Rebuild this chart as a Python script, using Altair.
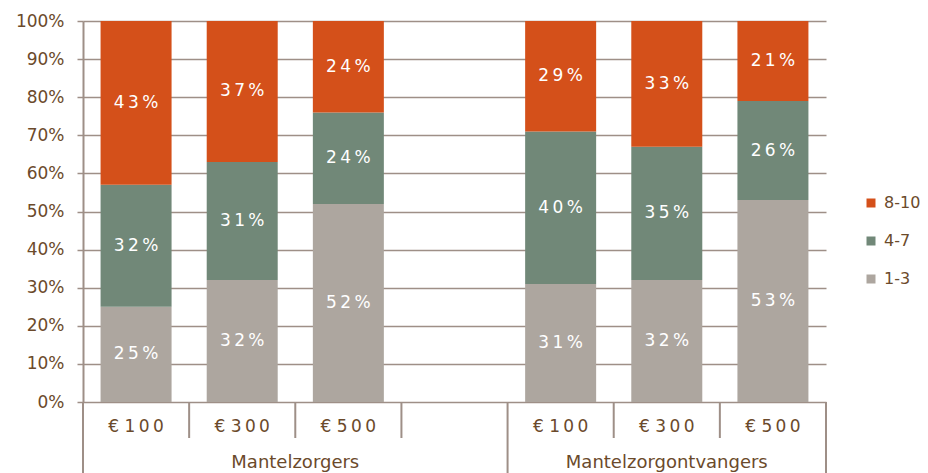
import altair as alt
import pandas as pd

# ---- data ----
groups = ["Mantelzorgers", "Mantelzorgontvangers"]
amounts = ["€ 100", "€ 300", "€ 500"]
scores = ["1-3", "4-7", "8-10"]
share_1_3 = [25, 32, 52, 31, 32, 53]
share_4_7 = [32, 31, 24, 40, 35, 26]
share_8_10 = [43, 37, 24, 29, 33, 21]
y_ticks = [0, 10, 20, 30, 40, 50, 60, 70, 80, 90, 100]

# ---- styling ----
COLORS = {"8-10": "#D4501A", "4-7": "#718878", "1-3": "#ADA69F"}
TEXT = "#6B4A2B"
GRID = "#9E8F87"
FONT = "DejaVu Sans"
THIN = "\u2009"
W, H = 743, 381

# layout: one empty slot after the first group
group_slots = [len(amounts) + 1, len(amounts)]
n_slots = sum(group_slots)

rows, amount_rows, group_rows = [], [], []
series = [share_1_3, share_4_7, share_8_10]
start = 0
for gi, g in enumerate(groups):
    for ai, a in enumerate(amounts):
        k = gi * len(amounts) + ai
        slot = start + ai
        for si, s in enumerate(scores):
            v = series[si][k]
            rows.append(dict(group=g, amount=a, slot=slot, pos=slot + 0.5, score=s,
                             rank=si, value=v, label=THIN.join(f"{v}%")))
        cur, num = a.split(" ")
        amount_rows.append(dict(pos=slot + 0.5, label=cur + " " + THIN.join(num)))
    group_rows.append(dict(pos=start + group_slots[gi] / 2, label=g))
    start += group_slots[gi]

df = pd.DataFrame(rows)
amount_df = pd.DataFrame(amount_rows)
group_df = pd.DataFrame(group_rows)

edges = [0]
for n in group_slots:
    edges.append(edges[-1] + n)
long_df = pd.DataFrame({"b": edges})
short_df = pd.DataFrame({"b": [i for i in range(n_slots + 1) if i not in edges]})

xs = alt.Scale(domain=[0, n_slots], nice=False, zero=False, padding=0)
ys = alt.Scale(domain=[0, 100], nice=False, padding=0)
y_axis = alt.Axis(values=y_ticks, labelExpr="datum.value + '%'", title=None,
                  grid=True, gridColor=GRID, gridWidth=1.5, labelOverlap=False,
                  domainColor=GRID, domainWidth=2,
                  tickColor=GRID, tickWidth=1.5, tickSize=6,
                  labelPadding=13, labelFontSize=17, labelColor=TEXT,
                  labelFont=FONT)

bars = alt.Chart(df).mark_bar(size=71).encode(
    x=alt.X("pos:Q", scale=xs, axis=None),
    y=alt.Y("value:Q", stack="zero", scale=ys, axis=y_axis),
    color=alt.Color("score:N",
                    scale=alt.Scale(domain=["8-10", "4-7", "1-3"],
                                    range=[COLORS["8-10"], COLORS["4-7"], COLORS["1-3"]]),
                    legend=alt.Legend(title=None, orient="none", legendX=780, legendY=174,
                                      symbolType="square", symbolSize=81,
                                      symbolStrokeWidth=0, symbolOpacity=1,
                                      labelFontSize=16, labelColor=TEXT, labelFont=FONT,
                                      labelOffset=5, rowPadding=22)),
    order=alt.Order("rank:Q"),
)

texts = alt.Chart(df).transform_stack(
    stack="value", groupby=["slot"], as_=["y0", "y1"],
    sort=[alt.SortField("rank", order="ascending")]
).transform_calculate(mid="(datum.y0 + datum.y1) / 2").mark_text(
    color="white", fontSize=17, font=FONT, baseline="middle"
).encode(x=alt.X("pos:Q", scale=xs, axis=None),
         y=alt.Y("mid:Q", scale=ys, axis=y_axis), text="label:N")

amount_text = alt.Chart(amount_df).mark_text(
    color=TEXT, fontSize=17, font=FONT, baseline="middle"
).encode(x=alt.X("pos:Q", scale=xs, axis=None), y=alt.value(H + 25), text="label:N")

group_text = alt.Chart(group_df).mark_text(
    color=TEXT, fontSize=18, font=FONT, baseline="middle"
).encode(x=alt.X("pos:Q", scale=xs, axis=None), y=alt.value(H + 61), text="label:N")

short_rules = alt.Chart(short_df).mark_rule(color=GRID, strokeWidth=2).encode(
    x=alt.X("b:Q", scale=xs, axis=None), y=alt.value(H), y2=alt.value(H + 36))
long_rules = alt.Chart(long_df).mark_rule(color=GRID, strokeWidth=2).encode(
    x=alt.X("b:Q", scale=xs, axis=None), y=alt.value(H), y2=alt.value(H + 95))

chart = alt.layer(bars, texts, short_rules, long_rules, amount_text, group_text).properties(
    width=W, height=H,
    autosize=alt.AutoSizeParams(type="none"),
    padding={"left": 75, "top": 13, "right": 94, "bottom": 71},
).configure_view(stroke=None)

chart.save("out.html", embed_options={"renderer": "svg", "actions": False})
